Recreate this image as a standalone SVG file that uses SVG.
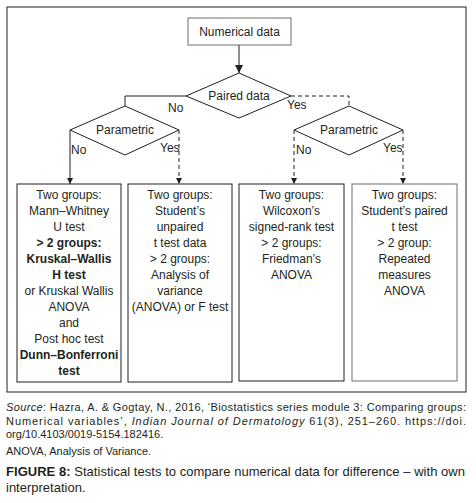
<svg xmlns="http://www.w3.org/2000/svg" width="476" height="503" viewBox="0 0 476 503">
<style>
.t{font-family:"Liberation Sans",Arial,sans-serif;font-size:12px;fill:#231f20;text-anchor:middle}
.b{font-weight:bold}
.lbl{font-family:"Liberation Sans",Arial,sans-serif;font-size:12px;fill:#231f20}
.f{font-family:"Liberation Sans",Arial,sans-serif;font-size:11px;fill:#231f20}
.cap{font-family:"Liberation Sans",Arial,sans-serif;font-size:13px;fill:#231f20}
.box{fill:#fff;stroke:#231f20;stroke-width:1}
.gbox{fill:#fff;stroke:#6d6e70;stroke-width:1}
.ln{fill:none;stroke:#231f20;stroke-width:1}
.dash{fill:none;stroke:#231f20;stroke-width:1;stroke-dasharray:4,3}
</style>
<defs>
<marker id="ah" viewBox="0 0 10 10" refX="10" refY="5" markerWidth="8" markerHeight="8" markerUnits="userSpaceOnUse" orient="auto"><path d="M0,0L10,5L0,10z" fill="#231f20"/></marker>
<marker id="ahs" viewBox="0 0 10 10" refX="10" refY="5" markerWidth="6" markerHeight="6" markerUnits="userSpaceOnUse" orient="auto"><path d="M0,0L10,5L0,10z" fill="#231f20"/></marker>
</defs>
<rect x="7" y="7" width="459" height="385" fill="#fff" stroke="#231f20" stroke-width="1"/>
<g id="connectors">
<line class="ln" x1="239" y1="45" x2="239" y2="73" marker-end="url(#ah)"/>
<polyline class="ln" points="186,96 125,96 125,106"/>
<polyline class="dash" points="291,96 349,96 349,106"/>
<line class="ln" x1="70" y1="130" x2="70" y2="184" marker-end="url(#ahs)"/>
<line class="dash" x1="179" y1="130" x2="179" y2="184" marker-end="url(#ahs)"/>
<line class="dash" x1="294" y1="130" x2="294" y2="184" marker-end="url(#ahs)"/>
<line class="dash" x1="403" y1="130" x2="403" y2="184" marker-end="url(#ahs)"/>
<text class="lbl" x="168" y="112">No</text>
<text class="lbl" x="287" y="109">Yes</text>
<text class="lbl" x="71" y="154">No</text>
<text class="lbl" x="160" y="152">Yes</text>
<text class="lbl" x="296" y="154">No</text>
<text class="lbl" x="383" y="152">Yes</text>
</g>
<g id="numerical">
<rect class="gbox" x="188" y="18" width="103" height="27"/>
<text class="t" x="239.5" y="36">Numerical data</text>
</g>
<g id="paired">
<polygon class="box" points="239,73 291,96 239,118 186,96"/>
<text class="t" x="239" y="100">Paired data</text>
</g>
<g id="param-left">
<polygon class="box" points="125,106 179,130 125,155 70,130"/>
<text class="t" x="125" y="134">Parametric</text>
</g>
<g id="param-right">
<polygon class="box" points="349,106 403,130 349,155 294,130"/>
<text class="t" x="349" y="134">Parametric</text>
</g>
<g id="box1">
<rect class="box" x="17" y="184" width="104" height="198"/>
<text class="t" x="69" y="199">Two groups:</text>
<text class="t" x="69" y="215">Mann–Whitney</text>
<text class="t" x="69" y="231">U test</text>
<text class="t b" x="69" y="247">&gt; 2 groups:</text>
<text class="t b" x="69" y="263">Kruskal–Wallis</text>
<text class="t b" x="69" y="279">H test</text>
<text class="t" x="69" y="295">or Kruskal Wallis</text>
<text class="t" x="69" y="311">ANOVA</text>
<text class="t" x="69" y="327">and</text>
<text class="t" x="69" y="343">Post hoc test</text>
<text class="t b" x="69" y="359">Dunn–Bonferroni</text>
<text class="t b" x="69" y="375">test</text>
</g>
<g id="box2">
<rect class="box" x="128" y="184" width="104" height="198"/>
<text class="t" x="180" y="199">Two groups:</text>
<text class="t" x="180" y="215">Student’s</text>
<text class="t" x="180" y="231">unpaired</text>
<text class="t" x="180" y="247">t test data</text>
<text class="t" x="180" y="263">&gt; 2 groups:</text>
<text class="t" x="180" y="279">Analysis of</text>
<text class="t" x="180" y="295">variance</text>
<text class="t" x="180" y="311">(ANOVA) or F test</text>
</g>
<g id="box3">
<rect class="box" x="239" y="184" width="105" height="197"/>
<text class="t" x="291.5" y="199">Two groups:</text>
<text class="t" x="291.5" y="215">Wilcoxon’s</text>
<text class="t" x="291.5" y="231">signed-rank test</text>
<text class="t" x="291.5" y="247">&gt; 2 groups:</text>
<text class="t" x="291.5" y="263">Friedman’s</text>
<text class="t" x="291.5" y="279">ANOVA</text>
</g>
<g id="box4">
<rect class="gbox" x="352" y="184" width="105" height="197"/>
<text class="t" x="404.5" y="199">Two groups:</text>
<text class="t" x="404.5" y="215">Student’s paired</text>
<text class="t" x="404.5" y="231">t test</text>
<text class="t" x="404.5" y="247">&gt; 2 group:</text>
<text class="t" x="404.5" y="263">Repeated</text>
<text class="t" x="404.5" y="279">measures</text>
<text class="t" x="404.5" y="295">ANOVA</text>
</g>
<g id="footer">
<text class="f" x="6" y="411" textLength="460" lengthAdjust="spacing"><tspan font-style="italic">Source</tspan>: Hazra, A. &amp; Gogtay, N., 2016, ‘Biostatistics series module 3: Comparing groups:</text>
<text class="f" x="6" y="425" textLength="460" lengthAdjust="spacing">Numerical variables’, <tspan font-style="italic">Indian Journal of Dermatology</tspan> 61(3), 251–260. https://doi.</text>
<text class="f" x="6" y="438">org/10.4103/0019-5154.182416.</text>
<text class="f" x="6" y="455">ANOVA, Analysis of Variance.</text>
<text class="cap" x="6" y="476" textLength="459" lengthAdjust="spacing"><tspan font-weight="bold">FIGURE 8:</tspan> Statistical tests to compare numerical data for difference – with own</text>
<text class="cap" x="6" y="492">interpretation.</text>
</g>
</svg>
